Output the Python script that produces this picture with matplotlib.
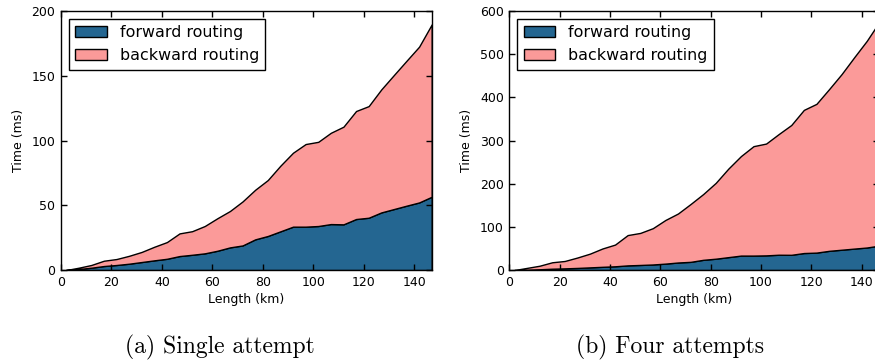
import numpy as np
import matplotlib
matplotlib.use('Agg')
import matplotlib.pyplot as plt

# route length samples (km)
length_km = [2, 7, 12, 17, 22, 27, 32, 37, 42, 47, 52, 57, 62, 67, 72,
             77, 82, 87, 92, 97, 102, 107, 112, 117, 122, 127, 132, 137, 142, 147]

# forward routing time (ms), same in both runs
forward_ms = [0, 0.8, 1.8, 3.1, 3.9, 4.9, 6.2, 7.5, 8.7, 10.8, 11.8, 12.9, 14.9, 17.5, 19.0,
              23.7, 26.3, 29.9, 33.5, 33.5, 34.0, 35.5, 35.3, 39.4, 40.4, 44.5, 47.1, 49.7, 52.2, 56.6]

# total time (forward + backward), single attempt
total_single = [0, 1.8, 3.9, 7.2, 8.5, 11, 14, 18, 21.6, 28.3, 30, 34, 40, 45.6, 53,
                62, 69.5, 80.6, 90.6, 97.3, 99, 106, 110.7, 122.8, 126.6, 139.5, 150.6, 161.6, 172.5, 189.7]

# total time (forward + backward), four attempts
total_four = [0, 5, 10, 18, 21, 29, 38, 50, 59, 81, 86, 97, 116, 131, 153,
              176, 202, 235, 264, 287, 293, 315, 336, 371, 385, 419, 454, 493, 531, 575]

captions = ['(a) Single attempt', '(b) Four attempts']
y_limits = [200, 600]
y_steps = [50, 100]

fwd_color = '#246691'
bwd_color = '#fb9a99'

plt.rcParams['font.family'] = 'DejaVu Sans'
plt.rcParams['xtick.direction'] = 'in'
plt.rcParams['ytick.direction'] = 'in'

fig = plt.figure(figsize=(8.75, 3.62), dpi=100)
ax_a = fig.add_axes([0.0697, 0.254, 0.4237, 0.7155])
ax_b = fig.add_axes([0.5821, 0.254, 0.4229, 0.7155])

for ax, total, ymax, ystep in zip([ax_a, ax_b], [total_single, total_four], y_limits, y_steps):
    fwd = np.array(forward_ms)
    bwd = np.array(total) - fwd
    ax.stackplot(length_km, fwd, bwd, colors=[fwd_color, bwd_color],
                 edgecolor='black', linewidth=1,
                 labels=['forward routing', 'backward routing'])
    ax.set_xlim(0, 147)
    ax.set_ylim(0, ymax)
    ax.set_xticks(range(0, 141, 20))
    ax.set_yticks(range(0, ymax + 1, ystep))
    ax.tick_params(top=True, right=True, labelsize=9, length=4, width=1, pad=4)
    ax.set_xlabel('Length (km)', fontsize=9, labelpad=3)
    ax.set_ylabel('Time (ms)', fontsize=9, labelpad=5)
    for s in ax.spines.values():
        s.set_linewidth(1)
    leg = ax.legend(loc='upper left', fontsize=11.4, fancybox=False, framealpha=1,
                    edgecolor='black', borderpad=0.4, labelspacing=0.5,
                    handlelength=2, handletextpad=0.8, borderaxespad=0.5)
    leg.get_frame().set_linewidth(1)

fig.text(220 / 875, 1 - 347 / 362, captions[0], ha='center', va='center',
         fontfamily='cmr10', fontsize=17)
fig.text(670 / 875, 1 - 347 / 362, captions[1], ha='center', va='center',
         fontfamily='cmr10', fontsize=17)

fig.savefig('out.png', dpi=100)
